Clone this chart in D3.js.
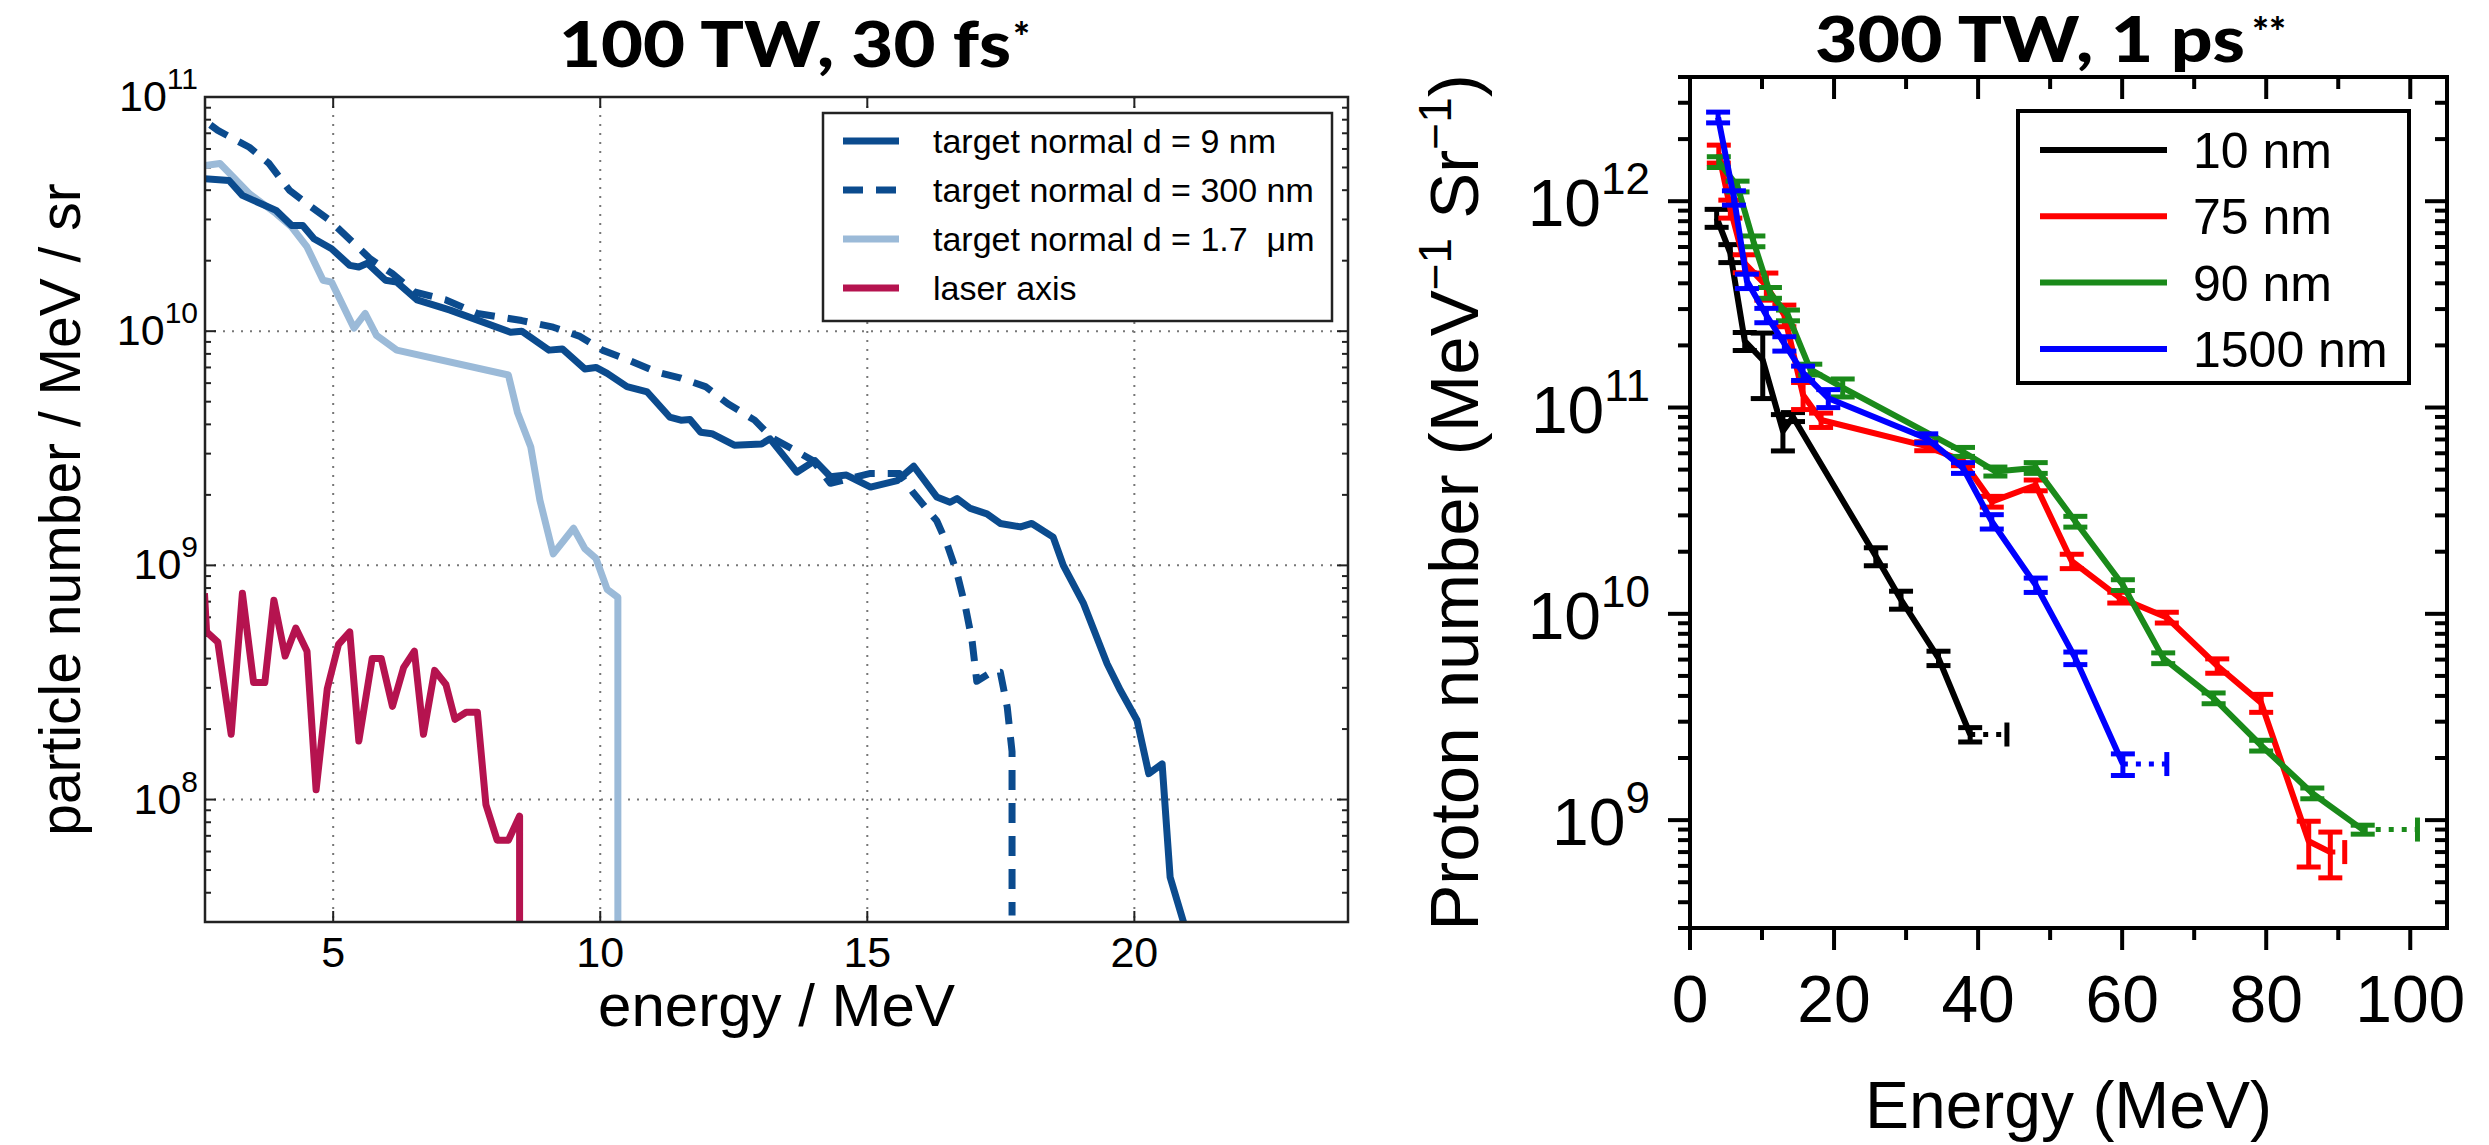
<!DOCTYPE html>
<html>
<head>
<meta charset="utf-8">
<script src="https://cdn.jsdelivr.net/npm/d3@7"></script>
<style>
  body { margin: 0; background: #fff; }
  text { font-family: "Liberation Sans", Arial, Helvetica, sans-serif; }
  .title { font-family: Lato, "Open Sans", sans-serif; font-weight: 900; }
</style>
</head>
<body>
<svg id="fig" width="2489" height="1145"></svg>
<script>
// ---------- left panel data (100 TW, 30 fs) ----------
var nm9E = [2.59, 3.05, 3.30, 3.93, 4.22, 4.43, 4.64, 4.97, 5.31, 5.48, 5.64, 5.98, 6.19, 6.57, 7.19, 8.32, 8.53, 9.04, 9.29, 9.71, 9.92, 10.13, 10.5, 10.88, 11.30, 11.51, 11.68, 11.88, 12.09, 12.51, 13.02, 13.18, 13.68, 14.02, 14.31, 14.61, 15.06, 15.56, 15.87, 16.3, 16.55, 16.68, 16.93, 17.24, 17.49, 17.87, 18.08, 18.48, 18.67, 19.05, 19.49, 19.74, 20.05, 20.27, 20.52, 20.67, 20.92, 21.0];
var nm9N = [4.48e10, 4.4e10, 3.8e10, 3.28e10, 2.83e10, 2.83e10, 2.48e10, 2.25e10, 1.91e10, 1.88e10, 1.95e10, 1.65e10, 1.62e10, 1.36e10, 1.23e10, 9.9e9, 1.0e10, 8.3e9, 8.4e9, 6.9e9, 7.0e9, 6.6e9, 5.8e9, 5.5e9, 4.3e9, 4.17e9, 4.2e9, 3.7e9, 3.65e9, 3.26e9, 3.3e9, 3.47e9, 2.5e9, 2.8e9, 2.39e9, 2.43e9, 2.16e9, 2.3e9, 2.65e9, 1.96e9, 1.86e9, 1.93e9, 1.75e9, 1.66e9, 1.51e9, 1.46e9, 1.51e9, 1.32e9, 1.0e9, 6.86e8, 3.8e8, 2.92e8, 2.18e8, 1.29e8, 1.42e8, 4.66e7, 3.0e7, 2.6e7];

var nm300E = [2.7, 2.84, 3.43, 3.80, 4.18, 4.51, 4.93, 5.39, 5.69, 6.11, 6.52, 7.11, 7.70, 8.53, 9.12, 9.62, 10.04, 10.54, 11.05, 11.51, 11.97, 12.39, 12.89, 13.22, 13.64, 13.98, 14.31, 15.06, 15.6, 15.87, 16.3, 16.49, 16.68, 16.84, 16.96, 17.05, 17.30, 17.49, 17.62, 17.71, 17.71];
var nm300N = [7.6e10, 7.2e10, 6.1e10, 5.2e10, 4.0e10, 3.5e10, 2.98e10, 2.37e10, 2.04e10, 1.76e10, 1.47e10, 1.36e10, 1.19e10, 1.11e10, 1.04e10, 9.5e9, 8.3e9, 7.5e9, 6.7e9, 6.3e9, 5.8e9, 4.9e9, 4.17e9, 3.5e9, 3.1e9, 2.8e9, 2.24e9, 2.47e9, 2.47e9, 2.03e9, 1.55e9, 1.24e9, 9.25e8, 6.6e8, 4.8e8, 3.2e8, 3.47e8, 3.5e8, 2.48e8, 1.6e8, 3.2e7];

var um17E = [2.59, 2.88, 3.44, 3.93, 4.22, 4.51, 4.81, 4.97, 5.39, 5.60, 5.81, 6.19, 8.28, 8.45, 8.70, 8.87, 9.12, 9.50, 9.71, 9.92, 10.13, 10.33, 10.33];
var um17N = [5.1e10, 5.2e10, 3.85e10, 3.18e10, 2.79e10, 2.29e10, 1.65e10, 1.62e10, 1.03e10, 1.19e10, 9.6e9, 8.3e9, 6.5e9, 4.5e9, 3.2e9, 1.9e9, 1.12e9, 1.44e9, 1.18e9, 1.07e9, 7.9e8, 7.3e8, 2.5e7];

var laserE = [2.59, 2.63, 2.84, 3.09, 3.30, 3.51, 3.72, 3.89, 4.10, 4.30, 4.51, 4.68, 4.89, 5.10, 5.31, 5.48, 5.73, 5.90, 6.11, 6.32, 6.52, 6.69, 6.90, 7.11, 7.28, 7.49, 7.70, 7.86, 8.07, 8.28, 8.49, 8.49];
var laserN = [7.6e8, 5.2e8, 4.7e8, 1.9e8, 7.6e8, 3.16e8, 3.16e8, 7.1e8, 4.1e8, 5.4e8, 4.3e8, 1.1e8, 2.98e8, 4.6e8, 5.2e8, 1.78e8, 4.0e8, 4.0e8, 2.5e8, 3.67e8, 4.3e8, 1.9e8, 3.56e8, 3.1e8, 2.2e8, 2.36e8, 2.36e8, 9.5e7, 6.7e7, 6.7e7, 8.5e7, 2.5e7];

var leftLegend = ["target normal d = 9 nm", "target normal d = 300 nm", "target normal d = 1.7\u00a0 \u03bcm", "laser axis"];
var leftXTicks = [5, 10, 15, 20];
var leftYExp = [8, 9, 10, 11];

// ---------- right panel data (300 TW, 1 ps) ----------
var blackE = [3.7, 5.6, 7.6, 10.1, 12.9, 14.3, 25.8, 29.3, 34.5, 38.9];
var blackN = [8.3e11, 5.6e11, 2.1e11, 1.7e11, 7.7e10, 9.0e10, 1.9e10, 1.17e10, 6.1e9, 2.6e9];
var blackErr = [0.1, 0.1, 0.1, 0.35, 0.2, 0.05, 0.1, 0.1, 0.08, 0.08];

var redE = [4.0, 5.6, 7.6, 10.6, 13.1, 15.7, 18.2, 32.8, 37.9, 41.9, 48.0, 53.0, 59.6, 66.2, 73.2, 79.3, 85.9, 88.9];
var redN = [1.7e12, 9.2e11, 5.0e11, 3.9e11, 2.8e11, 1.15e11, 8.7e10, 6.5e10, 5.5e10, 3.5e10, 4.2e10, 1.8e10, 1.2e10, 9.6e9, 5.6e9, 3.7e9, 7.9e8, 7.0e8];
var redErr = [0.1, 0.1, 0.1, 0.15, 0.12, 0.15, 0.08, 0.05, 0.05, 0.06, 0.06, 0.08, 0.06, 0.06, 0.08, 0.1, 0.25, 0.25];

var greenE = [4.0, 6.6, 8.8, 11.1, 13.6, 16.7, 21.2, 37.9, 42.4, 48.0, 53.5, 60.1, 65.7, 72.7, 79.3, 86.4, 93.4];
var greenN = [1.55e12, 1.18e12, 6.4e11, 3.6e11, 2.8e11, 1.53e11, 1.25e11, 6.1e10, 4.9e10, 5.1e10, 2.8e10, 1.38e10, 6.1e9, 3.9e9, 2.3e9, 1.35e9, 9.0e8];
var greenErr = [0.06, 0.06, 0.06, 0.06, 0.06, 0.06, 0.1, 0.05, 0.05, 0.06, 0.06, 0.06, 0.06, 0.06, 0.06, 0.06, 0.05];

var blueE = [3.9, 6.1, 7.9, 10.6, 13.1, 15.7, 19.2, 32.8, 37.9, 41.9, 48.0, 53.5, 60.1];
var blueN = [2.55e12, 1.04e12, 4.1e11, 2.8e11, 2.04e11, 1.47e11, 1.11e11, 7.1e10, 5.1e10, 2.8e10, 1.38e10, 6.1e9, 1.87e9];
var blueErr = [0.06, 0.08, 0.08, 0.08, 0.08, 0.08, 0.1, 0.05, 0.06, 0.08, 0.08, 0.07, 0.12];

var rightNames = ["10 nm", "75 nm", "90 nm", "1500 nm"];
var rightColors = ["#000000", "#ff0000", "#1a8a1a", "#0000ff"];
var rightCutoff = [44.0, 90.9, 101.0, 66.2];   // dotted extension ends (MeV)
var rightXTicks = [0, 20, 40, 60, 80, 100];
var rightYExp = [9, 10, 11, 12];

var svg = d3.select("#fig");
svg.append("rect").attr("width", 2489).attr("height", 1145).attr("fill", "#fff");

function pairs(E, N) { return E.map(function(e, i) { return [e, N[i]]; }); }

// "10" with a raised exponent, right-aligned at x
function powLabel(g, x, y, exp, size, supSize, rise) {
  var t = g.append("text").attr("x", x).attr("y", y).attr("text-anchor", "end")
    .style("font-size", size + "px");
  t.append("tspan").text("10");
  t.append("tspan").attr("dy", -rise).style("font-size", supSize + "px").text(exp);
}

// =================== LEFT PANEL ===================
var L = {x0: 205, x1: 1348, y0: 97, y1: 922};
var xL = d3.scaleLinear().domain([2.6, 24.0]).range([L.x0, L.x1]);
var yL = d3.scaleLog().domain([3e7, 1e11]).range([L.y1, L.y0]);

var gl = svg.append("g");
svg.append("clipPath").attr("id", "clipL").append("rect")
  .attr("x", L.x0).attr("y", L.y0).attr("width", L.x1 - L.x0).attr("height", L.y1 - L.y0);

// dotted grid
gl.selectAll(".gx").data(leftXTicks).enter().append("line")
  .attr("x1", function(d) { return xL(d); }).attr("x2", function(d) { return xL(d); })
  .attr("y1", L.y0).attr("y2", L.y1)
  .attr("stroke", "#777").attr("stroke-width", 2).attr("stroke-dasharray", "2,7");
gl.selectAll(".gy").data(leftYExp).enter().append("line")
  .attr("x1", L.x0).attr("x2", L.x1)
  .attr("y1", function(d) { return yL(Math.pow(10, d)); }).attr("y2", function(d) { return yL(Math.pow(10, d)); })
  .attr("stroke", "#777").attr("stroke-width", 2).attr("stroke-dasharray", "2,7");

// inward ticks on all sides
var minorL = [];
[7, 8, 9, 10].forEach(function(p) { for (var m = 2; m <= 9; m++) minorL.push(m * Math.pow(10, p)); });
minorL = minorL.filter(function(v) { return v >= 3e7 && v <= 1e11; });
var tickG = gl.append("g").attr("stroke", "#222").attr("stroke-width", 2);
minorL.forEach(function(v) {
  tickG.append("line").attr("x1", L.x0).attr("x2", L.x0 + 6).attr("y1", yL(v)).attr("y2", yL(v));
  tickG.append("line").attr("x1", L.x1).attr("x2", L.x1 - 6).attr("y1", yL(v)).attr("y2", yL(v));
});
leftYExp.forEach(function(p) {
  var v = Math.pow(10, p);
  tickG.append("line").attr("x1", L.x0).attr("x2", L.x0 + 11).attr("y1", yL(v)).attr("y2", yL(v));
  tickG.append("line").attr("x1", L.x1).attr("x2", L.x1 - 11).attr("y1", yL(v)).attr("y2", yL(v));
});
leftXTicks.forEach(function(d) {
  tickG.append("line").attr("x1", xL(d)).attr("x2", xL(d)).attr("y1", L.y1).attr("y2", L.y1 - 11);
  tickG.append("line").attr("x1", xL(d)).attr("x2", xL(d)).attr("y1", L.y0).attr("y2", L.y0 + 11);
});

// curves
var lineL = d3.line().x(function(d) { return xL(d[0]); }).y(function(d) { return yL(d[1]); });
var curvesL = gl.append("g").attr("clip-path", "url(#clipL)");
var leftSeries = [
  {d: pairs(laserE, laserN), c: "#b5134f", dash: null},
  {d: pairs(um17E, um17N), c: "#9bbad8", dash: null},
  {d: pairs(nm300E, nm300N), c: "#0b4b8e", dash: "20,13"},
  {d: pairs(nm9E, nm9N), c: "#0b4b8e", dash: null}
];
leftSeries.forEach(function(s) {
  curvesL.append("path").attr("d", lineL(s.d)).attr("fill", "none")
    .attr("stroke", s.c).attr("stroke-width", 7).attr("stroke-linejoin", "round")
    .attr("stroke-dasharray", s.dash);
});

// frame
gl.append("rect").attr("x", L.x0).attr("y", L.y0).attr("width", L.x1 - L.x0).attr("height", L.y1 - L.y0)
  .attr("fill", "none").attr("stroke", "#222").attr("stroke-width", 2.5);

// tick labels
leftXTicks.forEach(function(d) {
  gl.append("text").attr("x", xL(d)).attr("y", 967).attr("text-anchor", "middle")
    .style("font-size", "43px").text(d);
});
leftYExp.forEach(function(p) {
  powLabel(gl, 198, yL(Math.pow(10, p)) + 14, p, 43, 30, 22);
});
gl.append("text").attr("x", (L.x0 + L.x1) / 2).attr("y", 1026).attr("text-anchor", "middle")
  .style("font-size", "60px").text("energy / MeV");
gl.append("text").attr("transform", "translate(80," + ((L.y0 + L.y1) / 2) + ") rotate(-90)")
  .attr("text-anchor", "middle").style("font-size", "57px").text("particle number / MeV / sr");

// legend
var legL = gl.append("g");
legL.append("rect").attr("x", 823).attr("y", 113).attr("width", 509).attr("height", 208)
  .attr("fill", "#fff").attr("stroke", "#222").attr("stroke-width", 2.5);
var legLColors = ["#0b4b8e", "#0b4b8e", "#9bbad8", "#b5134f"];
var legLDash = [null, "20,13", null, null];
leftLegend.forEach(function(name, i) {
  var y = 141 + i * 49;
  legL.append("line").attr("x1", 843).attr("x2", 899).attr("y1", y).attr("y2", y)
    .attr("stroke", legLColors[i]).attr("stroke-width", 7).attr("stroke-dasharray", legLDash[i]);
  legL.append("text").attr("x", 933).attr("y", y + 12).style("font-size", "34px").text(name);
});

// title
svg.append("text").attr("class", "title").attr("x", 559).attr("y", 67)
  .attr("textLength", 452).attr("lengthAdjust", "spacingAndGlyphs")
  .style("font-size", "62px").text("100 TW, 30 fs");
svg.append("text").attr("class", "title").attr("x", 1013).attr("y", 52).style("font-size", "40px").text("*");

// =================== RIGHT PANEL ===================
var R = {x0: 1690, x1: 2447, y0: 77, y1: 928};
var xR = d3.scaleLinear().domain([0, 105.1]).range([R.x0, R.x1]);
var yR = d3.scaleLog().domain([3e8, 4e12]).range([R.y1, R.y0]);
var gr = svg.append("g");
svg.append("clipPath").attr("id", "clipR").append("rect")
  .attr("x", R.x0).attr("y", R.y0).attr("width", R.x1 - R.x0).attr("height", R.y1 - R.y0);

var minorR = [];
[8, 9, 10, 11, 12].forEach(function(p) { for (var m = 2; m <= 9; m++) minorR.push(m * Math.pow(10, p)); });
minorR = minorR.filter(function(v) { return v >= 3e8 && v <= 4e12; });

var tr = gr.append("g").attr("stroke", "#000").attr("stroke-width", 4);
minorR.forEach(function(v) {
  tr.append("line").attr("x1", R.x0).attr("x2", R.x0 - 12).attr("y1", yR(v)).attr("y2", yR(v));
  tr.append("line").attr("x1", R.x1).attr("x2", R.x1 - 12).attr("y1", yR(v)).attr("y2", yR(v));
});
rightYExp.forEach(function(p) {
  var v = Math.pow(10, p);
  tr.append("line").attr("x1", R.x0).attr("x2", R.x0 - 22).attr("y1", yR(v)).attr("y2", yR(v));
  tr.append("line").attr("x1", R.x1).attr("x2", R.x1 - 22).attr("y1", yR(v)).attr("y2", yR(v));
});
d3.range(0, 101, 10).forEach(function(d) {
  var len = d % 20 === 0 ? 22 : 12;
  tr.append("line").attr("x1", xR(d)).attr("x2", xR(d)).attr("y1", R.y1).attr("y2", R.y1 + len);
  tr.append("line").attr("x1", xR(d)).attr("x2", xR(d)).attr("y1", R.y0).attr("y2", R.y0 + len);
});

// series with error bars
var lineR = d3.line().x(function(d) { return xR(d[0]); }).y(function(d) { return yR(d[1]); });
var rightSeries = [
  {E: blackE, N: blackN, err: blackErr},
  {E: redE, N: redN, err: redErr},
  {E: greenE, N: greenN, err: greenErr},
  {E: blueE, N: blueN, err: blueErr}
];
var curvesR = gr.append("g").attr("clip-path", "url(#clipR)");
rightSeries.forEach(function(s, k) {
  var col = rightColors[k];
  var last = s.E.length - 1;
  // dotted extension to the cut-off energy
  curvesR.append("line").attr("x1", xR(s.E[last])).attr("x2", xR(rightCutoff[k]))
    .attr("y1", yR(s.N[last])).attr("y2", yR(s.N[last]))
    .attr("stroke", col).attr("stroke-width", 5).attr("stroke-dasharray", "5,8");
  curvesR.append("line").attr("x1", xR(rightCutoff[k])).attr("x2", xR(rightCutoff[k]))
    .attr("y1", yR(s.N[last]) - 12).attr("y2", yR(s.N[last]) + 12)
    .attr("stroke", col).attr("stroke-width", 5);
  curvesR.append("path").attr("d", lineR(pairs(s.E, s.N))).attr("fill", "none")
    .attr("stroke", col).attr("stroke-width", 6).attr("stroke-linejoin", "round");
  s.E.forEach(function(e, i) {
    var x = xR(e), hi = yR(s.N[i] * (1 + s.err[i])), lo = yR(s.N[i] * (1 - s.err[i]));
    curvesR.append("line").attr("x1", x).attr("x2", x).attr("y1", hi).attr("y2", lo)
      .attr("stroke", col).attr("stroke-width", 5);
    [hi, lo].forEach(function(y) {
      curvesR.append("line").attr("x1", x - 12).attr("x2", x + 12).attr("y1", y).attr("y2", y)
        .attr("stroke", col).attr("stroke-width", 5);
    });
  });
});

gr.append("rect").attr("x", R.x0).attr("y", R.y0).attr("width", R.x1 - R.x0).attr("height", R.y1 - R.y0)
  .attr("fill", "none").attr("stroke", "#000").attr("stroke-width", 4);

rightXTicks.forEach(function(d) {
  gr.append("text").attr("x", xR(d)).attr("y", 1022).attr("text-anchor", "middle")
    .style("font-size", "66px").text(d);
});
rightYExp.forEach(function(p) {
  powLabel(gr, 1650, yR(Math.pow(10, p)) + 25, p, 66, 44, 32);
});
gr.append("text").attr("x", (R.x0 + R.x1) / 2).attr("y", 1128).attr("text-anchor", "middle")
  .style("font-size", "66px").text("Energy (MeV)");
var yl = gr.append("text").attr("transform", "translate(1478," + ((R.y0 + R.y1) / 2) + ") rotate(-90)")
  .attr("text-anchor", "middle").style("font-size", "69px");
yl.append("tspan").text("Proton number (MeV");
yl.append("tspan").attr("dy", -27).style("font-size", "46px").text("\u22121");
yl.append("tspan").attr("dy", 27).text(" Sr");
yl.append("tspan").attr("dy", -27).style("font-size", "46px").text("\u22121");
yl.append("tspan").attr("dy", 27).text(")");

// legend
var legR = gr.append("g");
legR.append("rect").attr("x", 2018).attr("y", 111).attr("width", 391).attr("height", 272)
  .attr("fill", "#fff").attr("stroke", "#000").attr("stroke-width", 4);
rightNames.forEach(function(name, i) {
  var y = 150 + i * 66.3;
  legR.append("line").attr("x1", 2040).attr("x2", 2167).attr("y1", y).attr("y2", y)
    .attr("stroke", rightColors[i]).attr("stroke-width", 6);
  legR.append("text").attr("x", 2193).attr("y", y + 18).style("font-size", "50px").text(name);
});

svg.append("text").attr("class", "title").attr("x", 1815).attr("y", 62)
  .attr("textLength", 430).attr("lengthAdjust", "spacingAndGlyphs")
  .style("font-size", "62px").text("300 TW, 1 ps");
svg.append("text").attr("class", "title").attr("x", 2252).attr("y", 47).style("font-size", "40px").text("**");
</script>
</body>
</html>
